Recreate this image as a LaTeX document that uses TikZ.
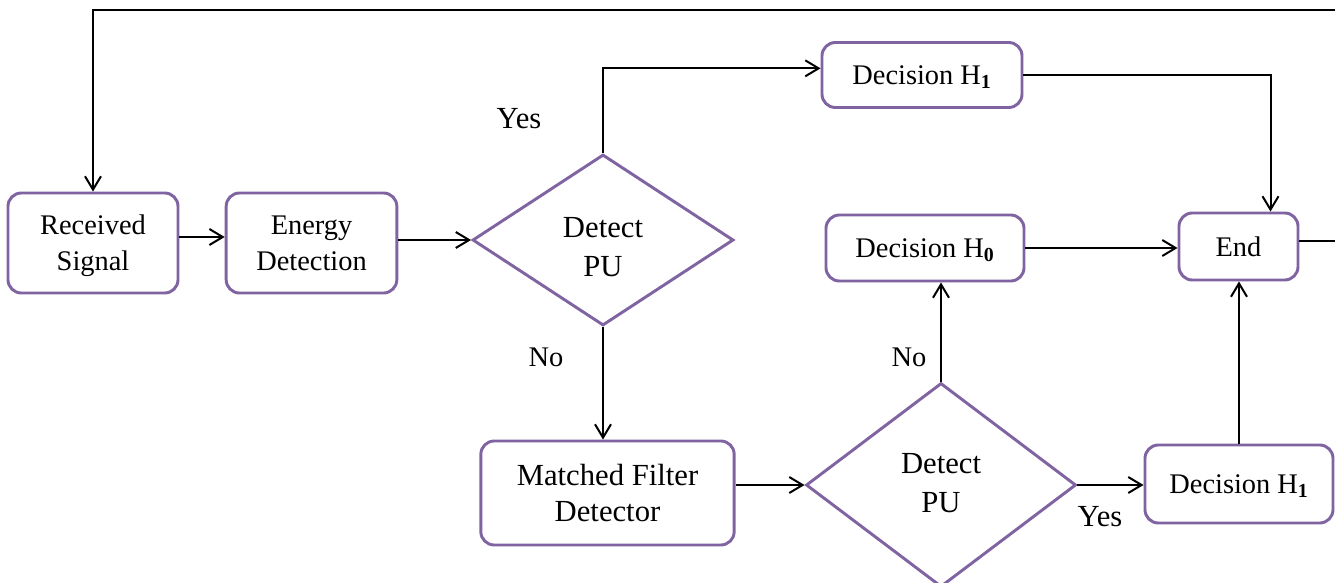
\documentclass[tikz,border=0pt]{standalone}
\usepackage{fontspec}
\setmainfont{Liberation Serif}
\usetikzlibrary{arrows.meta,shapes.geometric}
\definecolor{boxpurple}{HTML}{8064A2}
\newcommand\flowfont{\fontsize{21.3pt}{27pt}\selectfont}
\newcommand\bigflowfont{\fontsize{23pt}{27pt}\selectfont}
\newcommand\decfont{\fontsize{23pt}{29pt}\selectfont}
\newcommand\subone[1]{\textsubscript{\textbf{#1}}}
\tikzset{
  stepbox/.style={draw=boxpurple, line width=2.2pt, rounded corners=10pt, fill=white,
    align=center, inner sep=0pt, text depth=0pt, font=\flowfont},
  decide/.style={draw=boxpurple, diamond, line width=2.2pt, fill=white, inner sep=0pt},
  dtext/.style={align=center, inner sep=0pt, text depth=0pt, font=\decfont},
  flow/.style={line width=1.5pt, -{Straight Barb[length=10pt,width=12pt,line width=1.5pt]}},
  lbl/.style={font=\flowfont, inner sep=0pt},
  biglbl/.style={font=\bigflowfont, inner sep=0pt}
}
\begin{document}
\begin{tikzpicture}[x=0.75pt,y=-0.75pt]
\useasboundingbox (0,0) rectangle (1335,582);
\clip (0,0) rectangle (1335,582);

% process boxes
\node[stepbox, minimum width=127.5pt, minimum height=75pt] (recv) at (93,243) {Received\\Signal};
\node[stepbox, minimum width=128pt, minimum height=75pt] (energy) at (311.5,243) {Energy\\Detection};
\node[stepbox, minimum width=150pt, minimum height=48.75pt] (h1top) at (922,75) {Decision H\subone{1}};
\node[stepbox, minimum width=148.5pt, minimum height=49.5pt] (h0) at (925,248) {Decision H\subone{0}};
\node[stepbox, minimum width=89.25pt, minimum height=50.25pt] (end) at (1238.5,246.5) {End};
\node[stepbox, font=\bigflowfont, minimum width=190pt, minimum height=78pt] (mf) at (607.5,493) {Matched Filter\\Detector};
\node[stepbox, minimum width=141pt, minimum height=58.5pt] (h1b) at (1239,484) {Decision H\subone{1}};

% decision diamonds and their questions
\node[decide, minimum width=195.75pt, minimum height=128.25pt] (d1) at (603,240) {};
\node[dtext] (d1q) at (603,247) {Detect\\PU};
\node[decide, minimum width=202.5pt, minimum height=153pt] (d2) at (941,485) {};
\node[dtext] (d2q) at (941,483) {Detect\\PU};

% branch labels
\node[biglbl] (yes1) at (519,119) {Yes};
\node[lbl] (no1) at (546,357) {No};
\node[lbl] (no2) at (909,357) {No};
\node[biglbl] (yes2) at (1100,517) {Yes};

% feedback corner beyond the right edge
\coordinate (loopR) at (1352,10);

% connectors
\draw[flow] ([yshift=4.5pt]recv.east) -- ([yshift=4.5pt]energy.west);
\draw[flow] (energy.east |- d1.west) -- (d1.west);
\draw[flow] (d1.north) |- ([yshift=5pt]h1top.west);
\draw[flow] (h1top.east) -| ([xshift=24pt]end.north);
\draw[flow] (h0.east) -- (h0.east -| end.west);
\draw[flow] (d1.south) -- (d1.south |- mf.north);
\draw[flow] (mf.east |- d2.west) -- (d2.west);
\draw[flow] (d2.north) -- (d2.north |- h0.south);
\draw[flow] (d2.east) -- (d2.east -| h1b.west);
\draw[flow] (h1b.north) -- (h1b.north |- end.south);
\draw[flow] ([yshift=4.5pt]end.east) -| (loopR) -| (recv.north);
\end{tikzpicture}
\end{document}
